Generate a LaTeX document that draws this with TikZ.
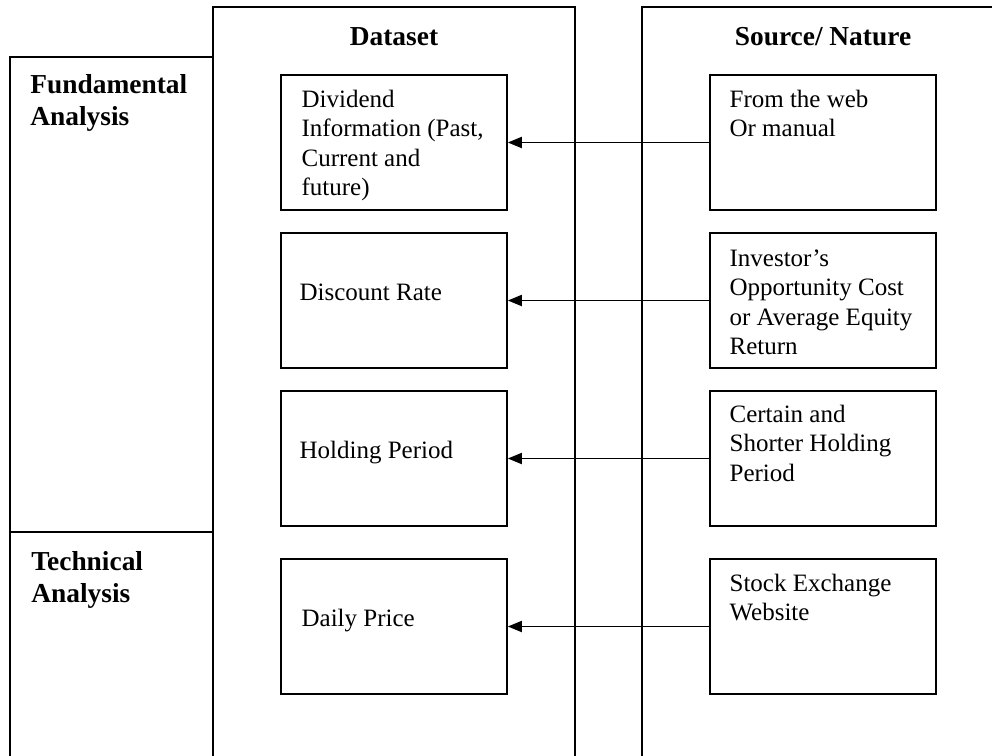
\documentclass[tikz,border=0pt]{standalone}
\usepackage{fontspec}
\setmainfont{Liberation Serif}
\usepackage{tikz}
\usetikzlibrary{arrows.meta}
\tikzset{
  column/.style={draw, line width=0.8pt},
  infobox/.style={draw, line width=0.8pt, minimum width=113pt, minimum height=67.5pt, inner sep=0pt},
  boxtext/.style={align=left, inner sep=0pt, font=\fontsize{12.5}{14.75}\selectfont},
  headtext/.style={align=left, inner sep=0pt, font=\fontsize{13.7}{16}\selectfont\bfseries},
  feed/.style={line width=0.9pt, -{Triangle[length=7pt,width=5.5pt]}}
}

\begin{document}
\begin{tikzpicture}[x=0.5pt, y=-0.5pt]
\clip (0,0) rectangle (992,756);
% columns
\draw[column] (10,57) rectangle (213,532);
\draw[column] (10,532) rectangle (213,780);
\draw[column] (213,7) rectangle (575,780);
\draw[column] (642,7) rectangle (1010,780);
% base anchor sits on the last line
\node[headtext, anchor=base west] (fund) at (30,125) {Fundamental\\Analysis};
\node[headtext, anchor=base west] (tech) at (31,602) {Technical\\Analysis};
\node[headtext, anchor=base] (dataset) at (394,45) {Dataset};
\node[headtext, anchor=base] (source) at (823,45) {Source/ Nature};
% dataset boxes
\node[infobox] (div) at (394,142.5) {};
\node[infobox] (disc) at (394,300.5) {};
\node[infobox] (hold) at (394,458.5) {};
\node[infobox] (price) at (394,626.5) {};
\node[boxtext, anchor=base west] (divtxt) at ([shift={(21,121.5)}]div.north west) {Dividend\\Information (Past,\\Current and\\future)};
\node[boxtext, anchor=base west] (disctxt) at ([xshift=9.5pt]disc.west) {Discount Rate};
\node[boxtext, anchor=base west] (holdtxt) at ([xshift=9.5pt]hold.west) {Holding Period};
\node[boxtext, anchor=base west] (pricetxt) at ([xshift=10.5pt]price.west) {Daily Price};
% source boxes
\node[infobox] (web) at (823,142.5) {};
\node[infobox] (cost) at (823,300.5) {};
\node[infobox] (period) at (823,458.5) {};
\node[infobox] (exch) at (823,626.5) {};
\node[boxtext, anchor=base west] (webtxt) at ([shift={(20,62.5)}]web.north west) {From the web\\Or manual};
\node[boxtext, anchor=base west] (costtxt) at ([shift={(20,122.5)}]cost.north west) {Investor’s\\Opportunity Cost\\or Average Equity\\Return};
\node[boxtext, anchor=base west] (periodtxt) at ([shift={(20,91)}]period.north west) {Certain and\\Shorter Holding\\Period};
\node[boxtext, anchor=base west] (exchtxt) at ([shift={(20,62.5)}]exch.north west) {Stock Exchange\\Website};
% arrows
\draw[feed] (web.west) -- (div.east);
\draw[feed] (cost.west) -- (disc.east);
\draw[feed] (period.west) -- (hold.east);
\draw[feed] (exch.west) -- (price.east);
\end{tikzpicture}
\end{document}
